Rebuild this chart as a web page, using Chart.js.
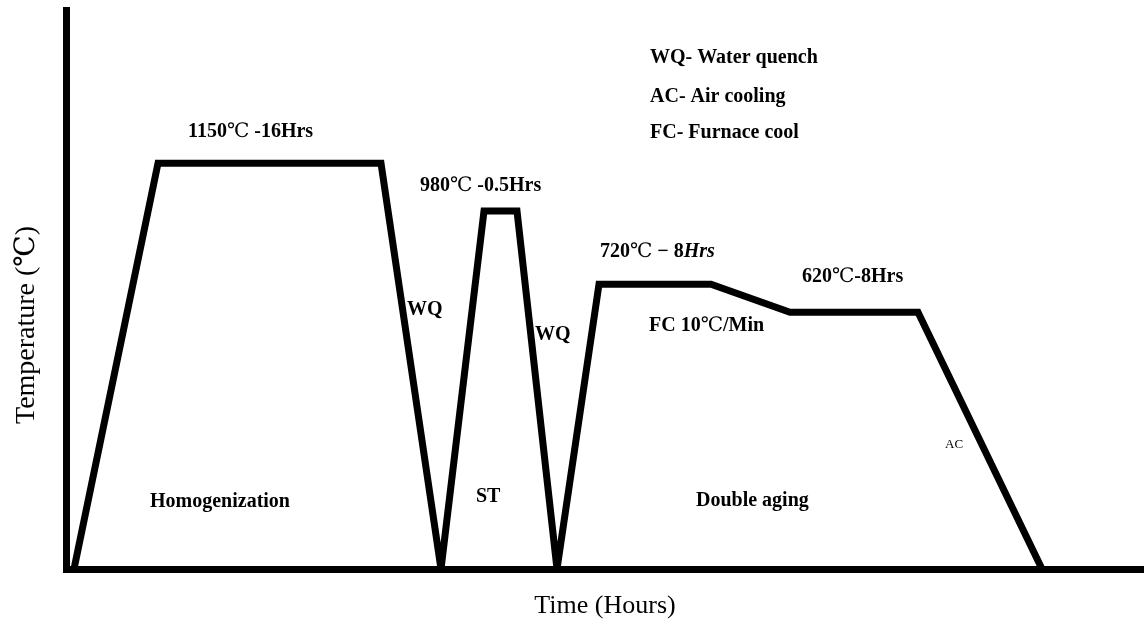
<!DOCTYPE html>
<html>
<head>
<meta charset="utf-8">
<script src="https://cdn.jsdelivr.net/npm/chart.js@4.4.1/dist/chart.umd.min.js"></script>
<style>
    body { margin: 0; background: #fff; }
    #wrap { width: 1144px; height: 633px; }
</style>
</head>
<body>
<div id="wrap"><canvas id="cycle"></canvas></div>
<script>
// Heat treatment cycle (schematic, not to scale)
const floorLevel = -293;          // bottom of the temperature axis
const topLevel = 1695;

// time positions of the cycle's corners (schematic units)
const timeSteps = [8, 92, 315, 375, 418, 451, 491, 533, 645, 724, 852, 976];
// temperature at each corner, °C
const temperatures = [floorLevel, 1150, 1150, floorLevel, 980, 980, floorLevel, 720, 720, 620, 620, floorLevel];

const xTitle = "Time (Hours)";
const yTitle = "Temperature (℃)";

const serif = "'Liberation Serif', 'Times New Roman', 'DejaVu Serif', 'Noto Sans CJK SC', serif";

// labels placed in data units, dy is a pixel nudge
const notes = [
    { text: "1150℃ -16Hrs", x: 122, y: 1150, dy: -26 },
    { text: "980℃ -0.5Hrs", x: 354, y: 980, dy: -20 },
    { runs: [["720", "bold"], ["℃", "normal"], [" − ", "bold"], ["8", "bold"], ["Hrs", "italic bold"]], x: 534, y: 720, dy: -27 },
    { text: "620℃-8Hrs", x: 736, y: 620, dy: -30 },
    { text: "FC 10℃/Min", x: 583, y: 620, dy: 19 },
    { text: "WQ", x: 341, y: 610 },
    { text: "WQ", x: 469, y: 521 },
    { text: "AC", x: 879, y: 136, size: 13, weight: "normal" },
    { text: "Homogenization", x: 84, y: -74 },
    { text: "ST", x: 410, y: -56 },
    { text: "Double aging", x: 630, y: -70 },
    { text: "WQ- Water quench", x: 584, y: 1506 },
    { text: "AC- Air cooling", x: 584, y: 1368 },
    { text: "FC- Furnace cool", x: 584, y: 1240 },
];

function toRuns(text, weight) {
    return text.split(/(℃)/).filter(s => s.length).map(s => [s, s === "℃" ? "normal" : weight]);
}

function drawRuns(ctx, runs, x, y, size) {
    let cx = x;
    for (const [str, style] of runs) {
        ctx.font = style + " " + size + "px " + serif;
        ctx.fillText(str, cx, y);
        cx += ctx.measureText(str).width;
    }
}

const notesPlugin = {
    id: "notes",
    afterDraw(chart) {
        const ctx = chart.ctx;
        const xs = chart.scales.x;
        const ys = chart.scales.y;
        ctx.save();
        ctx.fillStyle = "#000";
        ctx.textBaseline = "alphabetic";
        ctx.textAlign = "left";
        for (const n of notes) {
            const px = xs.getPixelForValue(n.x);
            const py = ys.getPixelForValue(n.y) + (n.dy || 0);
            const runs = n.runs || toRuns(n.text, n.weight || "bold");
            drawRuns(ctx, runs, px, py, n.size || 20);
        }

        // axis titles
        const area = chart.chartArea;
        ctx.textAlign = "center";
        ctx.textBaseline = "middle";
        ctx.font = "26px " + serif;
        ctx.fillText(xTitle, (area.left + area.right) / 2, area.bottom + 37);
        ctx.font = "28px " + serif;
        ctx.translate(27, area.top + 315);
        ctx.rotate(-Math.PI / 2);
        ctx.fillText(yTitle, 0, 0);
        ctx.restore();
    }
};

const data = {
    datasets: [{
        data: timeSteps.map((t, i) => ({ x: t, y: temperatures[i] })),
        borderColor: "#000",
        borderWidth: 7,
        borderJoinStyle: "miter",
        pointRadius: 0,
        tension: 0,
        fill: false,
    }],
};

const config = {
    type: "line",
    data: data,
    options: {
        responsive: true,
        maintainAspectRatio: false,
        animation: false,
        layout: { padding: { top: 10, right: 0, bottom: 0, left: 0 } },
        plugins: {
            legend: { display: false },
            tooltip: { enabled: false },
        },
        scales: {
            x: {
                type: "linear",
                min: 0,
                max: 1078,
                ticks: { display: false },
                grid: { display: false },
                border: { color: "#000", width: 7, z: 1 },
                afterFit: (scale) => { scale.height = 64; },
            },
            y: {
                min: floorLevel,
                max: topLevel,
                ticks: { display: false },
                grid: { display: false, lineWidth: 7 },
                border: { color: "#000", width: 7, z: 1 },
                afterFit: (scale) => { scale.width = 66; },
            },
        },
    },
    plugins: [notesPlugin],
};

const cycleChart = new Chart(document.querySelector("#cycle"), config);
</script>
</body>
</html>
